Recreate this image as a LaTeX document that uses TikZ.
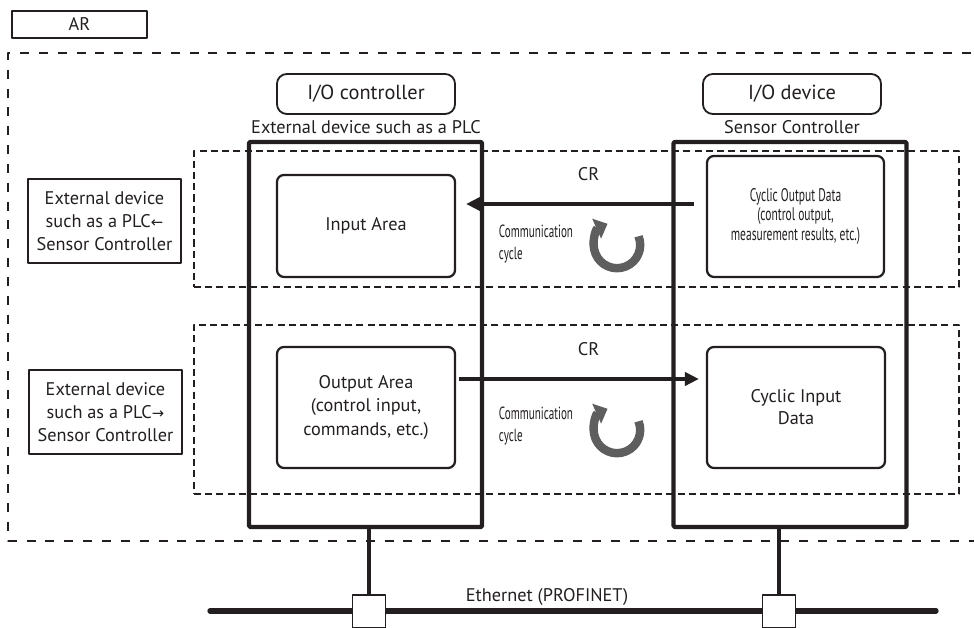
\documentclass[tikz,border=0pt]{standalone}
\usepackage{fontspec}
\setmainfont{PT Sans}
\newfontfamily\narrowfont[FakeStretch=0.63]{PT Sans}
\newfontfamily\arrowfont{DejaVu Sans}
\usepackage{tikz}
\usetikzlibrary{arrows.meta}
\definecolor{ink}{HTML}{231F20}
\definecolor{cyclegray}{HTML}{5E5E5E}

\begin{document}
\begin{tikzpicture}[x=0.025cm, y=0.025cm, line join=round, draw=ink,
  every node/.style={text=ink, font=\fontsize{13}{16.6}\selectfont},
  tag/.style={draw, line width=1.4pt, minimum width=3.375cm, minimum height=0.675cm, inner sep=0pt},
  role/.style={draw, line width=1.3pt, rounded corners=7pt, minimum width=4.45cm, minimum height=1.0cm, font=\fontsize{14.5}{17}\selectfont},
  side/.style={draw, line width=1.4pt, minimum width=3.8cm, minimum height=2.1cm, align=center, inner sep=1pt},
  unit/.style={draw, line width=3.1pt, rounded corners=1pt, minimum width=5.825cm, minimum height=9.625cm},
  zone/.style={draw, line width=1.8pt, dash pattern=on 5pt off 3pt, minimum width=19.125cm},
  area/.style={draw, fill=white, line width=1.6pt, rounded corners=5pt, minimum width=4.45cm, align=center},
  flow/.style={line width=2.3pt, -{Triangle[length=10pt, width=9.5pt]}},
  turn/.style={draw=cyclegray, line width=6pt, -{Triangle[length=8.5pt, width=15pt]}},
  slim/.style={font=\narrowfont\fontsize{12.5}{15.6}\selectfont, align=left},
  port/.style={draw, fill=white, line width=1.3pt, minimum size=0.825cm, inner sep=0pt}]
\useasboundingbox (0,0) rectangle (974,628);

\node[tag] (ar) at (79.5,603.5) {AR};
\draw[line width=1.7pt, dash pattern=on 6.4pt off 7pt] (990,575) -- (8,575) -- (8,87) -- (990,87);

\node[zone, minimum height=3.4cm] (zin) at (576.5,409) {};
\node[zone, minimum height=4.225cm] (zout) at (576.5,218.5) {};

\node[unit] (ctrl) at (365.5,293.5) {};
\node[unit] (dev) at (790,293.5) {};

\node[role] (ctrlrole) at (366,534) {I/O controller};
\node[role] (devrole) at (792,534) {I/O device};
\node (ctrlname) at (366,501) {External device such as a PLC};
\node (devname) at (792,501) {Sensor Controller};

\node[area, minimum height=2.55cm] (inarea) at (366,402) {Input Area};
\node[area, minimum height=3.025cm] (outarea) at (366,220.5) {Output Area\\(control input,\\commands, etc.)};
\node[area, minimum width=4.425cm, minimum height=3.025cm, font=\narrowfont\fontsize{13}{13.9}\selectfont] (cout) at (795.5,411.5) {Cyclic Output Data\\(control output,\\measurement results, etc.)};
\node[area, minimum width=4.45cm, minimum height=3.025cm, font=\fontsize{13}{15.6}\selectfont] (cin) at (796,220.5) {Cyclic Input\\Data};

\node[side] (rxlabel) at (104.5,407) {External device\\such as a PLC{\arrowfont\fontsize{10.5}{10}\selectfont ←}\\Sensor Controller};
\node[side] (txlabel) at (105.5,216) {External device\\such as a PLC{\arrowfont\fontsize{10.5}{10}\selectfont →}\\Sensor Controller};

\draw[flow, shorten <=0.3cm, shorten >=0.25cm] ([yshift=0.3125cm]cout.west) -- ([yshift=0.3125cm]cout.west -| inarea.east) node[pos=0.47, above=0.42cm] (cr1) {CR};
\draw[flow, shorten <=0.075cm, shorten >=0.175cm] ([yshift=0.7125cm]outarea.east) -- ([yshift=0.7125cm]outarea.east -| cin.west) node[pos=0.53, above=0.42cm] (cr2) {CR};

\node[slim, anchor=west] (cyctext1) at (494,384) {Communication\\cycle};
\node[slim, anchor=west] (cyctext2) at (494,201.5) {Communication\\cycle};
\coordinate (cyc1) at (617,383);
\coordinate (cyc2) at (617,198);
\draw[turn] ([shift={(22:0.58cm)}]cyc1) arc[start angle=22, end angle=-246, radius=0.58cm];
\draw[turn] ([shift={(22:0.58cm)}]cyc2) arc[start angle=22, end angle=-246, radius=0.58cm];

\coordinate (ethL) at (210,17);
\coordinate (ethR) at (936,17);
\draw[line width=3.8pt, line cap=round] (ethL) -- (ethR);
\node (eth) at (547,31) {Ethernet (PROFINET)};
\node[port] (ctrlport) at (369,16.5) {};
\node[port] (devport) at (779,16.5) {};
\draw[line width=2.3pt] (ctrlport.north) -- (ctrlport.north |- ctrl.south);
\draw[line width=2.3pt] (devport.north) -- (devport.north |- dev.south);
\end{tikzpicture}
\end{document}
